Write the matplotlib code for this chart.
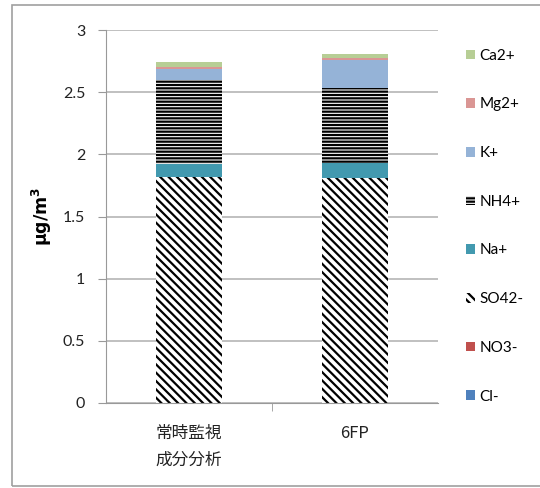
import matplotlib
matplotlib.use("Agg")
import matplotlib.pyplot as plt
from matplotlib.patches import Rectangle, Patch
import numpy as np

plt.rcParams['font.family'] = ['Lato', 'Noto Sans CJK JP', 'DejaVu Sans']
plt.rcParams['hatch.linewidth'] = 1.6

categories = ['常時監視\n成分分析', '6FP']
species = ['Cl-', 'NO3-', 'SO42-', 'Na+', 'NH4+', 'K+', 'Mg2+', 'Ca2+']
values = {
    'Cl-':   [0.0, 0.0],
    'NO3-':  [0.0, 0.0],
    'SO42-': [1.82, 1.81],
    'Na+':   [0.10, 0.12],
    'NH4+':  [0.68, 0.60],
    'K+':    [0.09, 0.23],
    'Mg2+':  [0.016, 0.017],
    'Ca2+':  [0.036, 0.032],
}
colors = {
    'Cl-': '#4F81BD', 'NO3-': '#C0504D', 'SO42-': 'white', 'Na+': '#4299AF',
    'NH4+': 'white', 'K+': '#95B3D7', 'Mg2+': '#DA9694', 'Ca2+': '#B7CE95',
}
hatches = {'SO42-': '\\\\\\\\', 'NH4+': '-----'}
yticks = [0, 0.5, 1, 1.5, 2, 2.5, 3]

fig = plt.figure(figsize=(5.4, 4.88), dpi=100)
ax = fig.add_axes([106/540, 1-403/488, 332/540, 373/488])

x = np.arange(len(categories))
bottom = np.zeros(len(categories))
handles = []
for sp in species:
    v = np.array(values[sp])
    h = hatches.get(sp)
    ax.bar(x, v, width=0.4, bottom=bottom, color=colors[sp],
           edgecolor='black' if h else colors[sp], linewidth=0,
           hatch=h, zorder=3)
    handles.append(Patch(facecolor=colors[sp], hatch=h,
                         edgecolor='black' if h else colors[sp], linewidth=0))
    bottom += v

ax.set_xlim(-0.5, 1.5)
ax.set_ylim(0, 3)
ax.set_yticks(yticks)
ax.set_yticklabels([f'{t:g}' for t in yticks], fontsize=11.5, color='#222222')
ax.set_xticks(x)
ax.set_xticklabels(categories, fontsize=12, color='#222222', linespacing=1.75,
                   family=['Noto Sans CJK JP', 'DejaVu Sans'])
ax.tick_params(axis='x', length=0, pad=16)
ax.tick_params(axis='y', length=6, color='#999999', pad=9)
# category separators on the x axis
ax.set_xticks([0.5], minor=True)
ax.tick_params(axis='x', which='minor', length=6, color='#999999')

ax.grid(axis='y', color='#b5b5b5', linewidth=1.2, zorder=0)
for s in ['top', 'right']:
    ax.spines[s].set_visible(False)
for s in ['left', 'bottom']:
    ax.spines[s].set_color('#999999')
    ax.spines[s].set_zorder(4)

ax.set_ylabel('μg/m$^\\mathregular{3}$', fontsize=12.5, fontweight='bold',
              family=['DejaVu Sans'], labelpad=6)

leg = fig.legend(handles[::-1], species[::-1], loc='upper left',
                 bbox_to_anchor=(452/540, 1-35/488), frameon=False,
                 fontsize=11, handlelength=0.6, handleheight=0.6,
                 handletextpad=0.3, labelspacing=2.27)

fig.add_artist(Rectangle((12/540, 2/488), 1.0, 1-7/488, transform=fig.transFigure,
                         fill=False, edgecolor='#a0a0a0', linewidth=1.2))

fig.savefig('out.png', dpi=100)
